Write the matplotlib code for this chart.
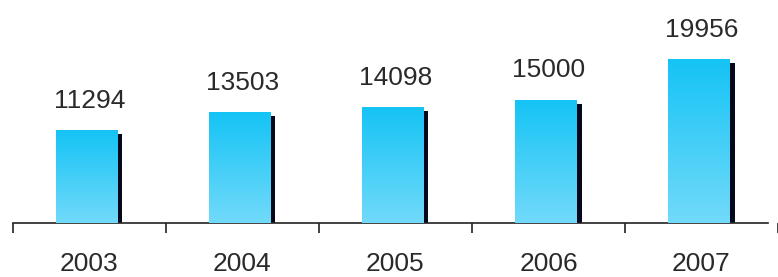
import matplotlib

matplotlib.use("Agg")
import matplotlib.pyplot as plt
import numpy as np
from matplotlib.colors import LinearSegmentedColormap
from matplotlib.patches import Rectangle

# data
years = ["2003", "2004", "2005", "2006", "2007"]
values = [11294, 13503, 14098, 15000, 19956]

plt.rcParams['font.family'] = ['Liberation Sans', 'DejaVu Sans']

fig = plt.figure(figsize=(7.78, 2.77), dpi=100)
# axes spans the whole width, bottom spine at y=223 px
ax = fig.add_axes([0, 54 / 277, 1, 223 / 277])

cat_w = 155.0  # px per category
x0 = -0.5 - 13 / cat_w
x1 = -0.5 + (778 - 13) / cat_w
ax.set_xlim(x0, x1)
ax.set_ylim(0, 27100)

px_y = 27100 / 223.0  # data units per pixel vertically

bar_w = 62 / cat_w
bar_off = -2.5 / cat_w
sh_w = 5 / cat_w

grad = LinearSegmentedColormap.from_list("blue", ["#72dafa", "#14c3f5"])
gradient = np.linspace(0, 1, 256).reshape(-1, 1)

xs = np.arange(len(years))
for x, v in zip(xs, values):
    left = x + bar_off - bar_w / 2
    # black shadow on the right side
    ax.add_patch(Rectangle((left + bar_w, 0), sh_w, v - 4 * px_y,
                           facecolor="#05081a", edgecolor="none", zorder=2))
    rect = Rectangle((left, 0), bar_w, v, facecolor="none", edgecolor="none")
    ax.add_patch(rect)
    im = ax.imshow(gradient, cmap=grad, aspect="auto", origin="lower",
                   extent=(left, left + bar_w, 0, v), zorder=3)
    im.set_clip_path(rect)
    ax.annotate(str(v), (x, v), xytext=(0, 16), textcoords="offset points",
                ha="center", va="baseline", fontsize=19, color="#2a2a2a")

ax.set_xticks(xs)
ax.set_xticklabels(years, fontsize=19, color="#2a2a2a")
ax.tick_params(axis="x", which="major", length=0, pad=21)
ax.set_xticks(np.arange(len(years) + 1) - 0.5, minor=True)
ax.tick_params(axis="x", which="minor", length=7, width=1.2, color="#222222",
               direction="out")
ax.set_yticks([])

for s in ["top", "right", "left"]:
    ax.spines[s].set_visible(False)
ax.spines["bottom"].set_bounds(-0.5, x1)
ax.spines["bottom"].set_linewidth(1.2)
ax.spines["bottom"].set_color("#222222")

fig.savefig("out.png", dpi=100)
